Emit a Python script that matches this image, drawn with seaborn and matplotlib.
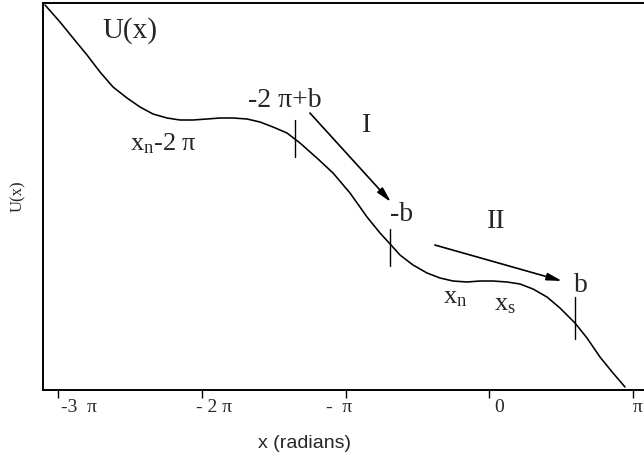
import numpy as np
import pandas as pd
import seaborn as sns
import matplotlib.pyplot as plt

# ---- Data
x_rad = [-9.709, -9.381, -9.097, -8.791, -8.507, -8.223, -7.917, -7.633, -7.349, -7.043,
         -6.759, -6.475, -6.169, -5.885, -5.601, -5.295, -5.011, -4.727, -4.421, -4.137,
         -3.743, -3.415, -3.044, -2.672, -2.388, -2.148, -1.951, -1.667, -1.361, -1.077,
         -0.793, -0.487, -0.203, 0.081, 0.387, 0.671, 0.955, 1.261, 1.545, 1.873,
         2.135, 2.419, 2.703, 2.966]
u_val = [3.85, 3.68, 3.52, 3.35, 3.18, 3.03, 2.92, 2.83, 2.76, 2.72,
         2.70, 2.70, 2.71, 2.72, 2.72, 2.71, 2.68, 2.63, 2.57, 2.47,
         2.31, 2.17, 1.97, 1.73, 1.57, 1.45, 1.35, 1.25, 1.17, 1.12,
         1.09, 1.08, 1.09, 1.09, 1.08, 1.06, 1.01, 0.93, 0.82, 0.67,
         0.52, 0.33, 0.17, 0.03]

# vertical marks on the curve: x, y bottom, y top
mark_x = [-4.25, -2.17, 1.87]
mark_lo = [2.33, 1.24, 0.51]
mark_hi = [2.70, 1.61, 0.93]

# arrows I and II: (x0, y0) -> (x1, y1)
arrow_from = [(-3.92, 2.77), (-1.19, 1.45)]
arrow_to = [(-2.15, 1.88), (1.59, 1.09)]

tick_vals = [-3 * np.pi, -2 * np.pi, -np.pi, 0, np.pi]
tick_labels = ["-3  π", "- 2 π", "-  π", "0", "π"]

df = pd.DataFrame({"x": x_rad, "U": u_val})

# ---- Plot
sns.set_style("white")
plt.rcParams['font.family'] = ['Liberation Serif', 'DejaVu Serif']
plt.rcParams['mathtext.fontset'] = 'custom'
plt.rcParams['mathtext.rm'] = 'Liberation Serif'
plt.rcParams['mathtext.it'] = 'Liberation Serif:italic'

fig = plt.figure(figsize=(6.44, 4.57), dpi=100)
ax = fig.add_axes([43 / 644, 1 - 390 / 457, 601 / 644, 387 / 457])

sns.lineplot(data=df, x="x", y="U", sort=False, color="black", lw=1.15, ax=ax)

for xm, lo, hi in zip(mark_x, mark_lo, mark_hi):
    ax.plot([xm, xm], [lo, hi], color="black", lw=1.0)

for (x0, y0), (x1, y1) in zip(arrow_from, arrow_to):
    ax.annotate("", xy=(x1, y1), xytext=(x0, y0),
                arrowprops=dict(arrowstyle="-|>,head_length=0.9,head_width=0.22",
                                color="black", lw=1.2, shrinkA=0, shrinkB=0))

ax.set_xlim(-9.753, 3.381)
ax.set_ylim(0, 3.87)

ax.set_xticks(tick_vals)
ax.set_xticklabels([])
ax.tick_params(axis="x", direction="out", length=6, width=1, color="black", bottom=True)
ax.set_yticks([])
tick_text_x = [-8.97, -6.02, -3.29, 0.22, 3.25]
for tx, lab in zip(tick_text_x, tick_labels):
    ax.text(tx, -0.044, lab, transform=ax.get_xaxis_transform(),
            ha="center", va="center", fontsize=14)

for side in ["left", "bottom", "top"]:
    ax.spines[side].set_color("black")
    ax.spines[side].set_linewidth(1.4)
ax.spines["right"].set_visible(False)

ax.set_xlabel("x (radians)", family=["Liberation Sans", "DejaVu Sans"], fontsize=14)
ax.set_ylabel("U(x)", fontsize=12, labelpad=12)
ax.xaxis.set_label_coords(0.435, -0.115)

# annotations
ax.text(-7.85, 3.59, "U(x)", fontsize=21, ha="center", va="center")
ax.text(-4.46, 2.90, "-2 π+b", fontsize=20, ha="center", va="center")
ax.text(-2.69, 2.64, "I", fontsize=20, ha="center", va="center")
ax.text(-1.91, 1.76, "-b", fontsize=20, ha="center", va="center")
ax.text(0.15, 1.69, "II", fontsize=20, ha="center", va="center")
ax.text(2.00, 1.04, "b", fontsize=20, ha="center", va="center")
ax.text(-7.85, 2.40, r"$\mathregular{x_n}$-2 π", fontsize=19, ha="left", va="baseline")
ax.text(-1.01, 0.87, r"$\mathregular{x_n}$", fontsize=19, ha="left", va="baseline")
ax.text(0.10, 0.80, r"$\mathregular{x_s}$", fontsize=19, ha="left", va="baseline")

fig.savefig("out.png", dpi=100)
